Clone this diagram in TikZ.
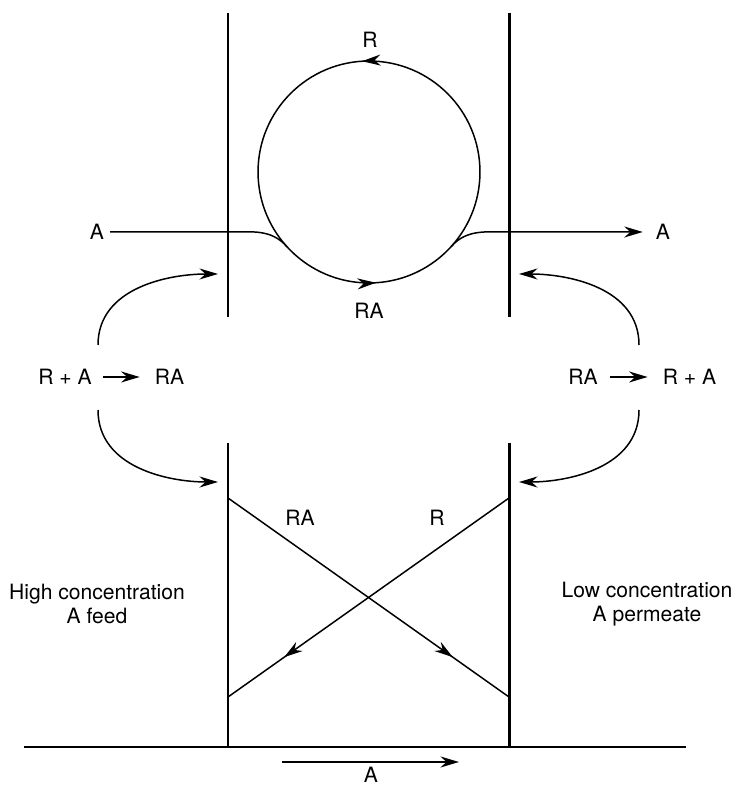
\documentclass[tikz,border=0pt]{standalone}
\usepackage{fontspec}
\setmainfont{TeX Gyre Heros}
\usepackage{tikz}
\usetikzlibrary{arrows.meta,positioning,calc,decorations.markings}

\begin{document}
\begin{tikzpicture}[x=0.02cm, y=0.02cm,
  >={Stealth[length=3.7mm, width=2.2mm]},
  every node/.style={font=\fontsize{12}{14}\selectfont},
  membrane/.style={line width=1.7pt},
  plain/.style={line width=0.85pt},
  flow/.style={plain, ->},
  midtip/.style={plain, postaction={decorate},
    decoration={markings, mark=at position #1 with {\arrow{>}}}}]
\useasboundingbox (0,0) rectangle (735,786);

% membranes, upper and lower cut
\foreach \x in {228,509} {
  \draw[membrane] (\x,773) -- (\x,469);
  \draw[membrane] (\x,343) -- (\x,39);
}
\draw[membrane] (24,39) -- (686,39);

% carrier loop
\coordinate (wheel) at (369,614);
\draw[plain, postaction={decorate}, decoration={markings,
    mark=at position 0.26 with {\arrow{>}},
    mark=at position 0.76 with {\arrow{>}}}] (wheel) circle[radius=2.22cm];
\path (wheel) ++(222:2.22cm) coordinate (joinL);
\path (wheel) ++(318:2.22cm) coordinate (joinR);
\node (rtop) at (370,746) {R};
\node (rabot) at (369,475) {RA};

% A through the membrane
\node (ain) at (97,554) {A};
\node (aout) at (663,554) {A};
\draw[plain] (ain) -- (228,554) to[out=0, in=132] (joinL);
\draw[flow, shorten >=1.4mm] (joinR) to[out=48, in=180] (509,554) -- (aout);

% reactions at the two faces
\node (lreact) at (65,409) {R + A};
\node (lprod) at (169.5,409) {RA};
\draw[flow, shorten <=1mm, shorten >=1.8mm] (lreact) -- (lprod);
\node (rreact) at (583,409) {RA};
\node (rprod) at (689.5,409) {R + A};
\draw[flow, shorten <=1.2mm, shorten >=1.8mm] (rreact) -- (rprod);

\coordinate (lhi) at (98,441);   \coordinate (llo) at (98,376);
\coordinate (rhi) at (639,441);  \coordinate (rlo) at (639,376);
\draw[flow, shorten >=2mm] (lhi) to[out=90, in=180] (228,512);
\draw[flow, shorten >=2mm] (llo) to[out=-90, in=180] (228,304);
\draw[flow, shorten >=2mm] (rhi) to[out=90, in=0] (509,512);
\draw[flow, shorten >=2mm] (rlo) to[out=-90, in=0] (509,304);

% crossing transport
\coordinate (xl1) at (228,288);  \coordinate (xl2) at (228,89);
\coordinate (xr1) at (509,288);  \coordinate (xr2) at (509,89);
\draw[midtip=0.8] (xl1) -- (xr2);
\draw[midtip=0.8] (xr1) -- (xl2);
\node (racross) at (300,268) {RA};
\node (rcross) at (437,268) {R};

% feed and permeate sides
\node[align=center] (hifeed) at (97,182) {High concentration\\A feed};
\node[align=center] (lopermeate) at (647,182) {Low concentration\\A permeate};

% net flux
\coordinate (fs) at (282,24);
\coordinate (fe) at (459,24);
\draw[flow] (fs) -- (fe);
\node (abot) at (371,11) {A};
\end{tikzpicture}
\end{document}
